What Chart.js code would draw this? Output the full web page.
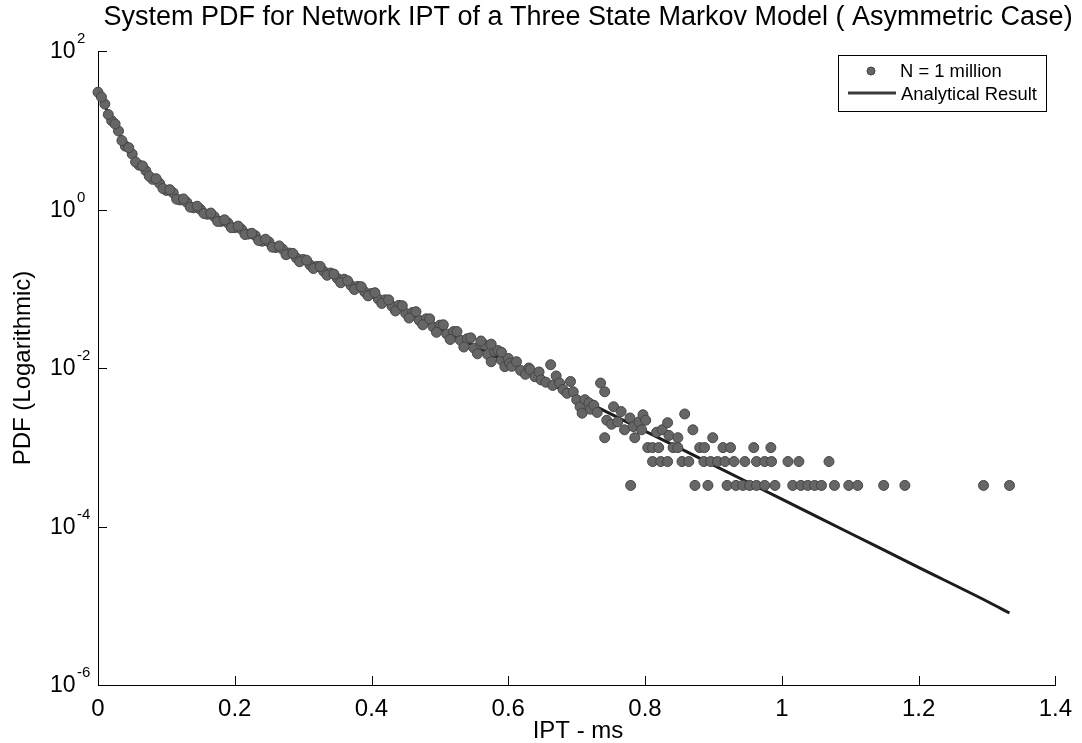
<!DOCTYPE html>
<html>
<head>
<meta charset="utf-8">
<script src="https://cdn.jsdelivr.net/npm/chart.js@4.4.1/dist/chart.umd.min.js"></script>
<style>
  html, body { margin: 0; padding: 0; background: #fff; }
  #wrap { width: 1082px; height: 743px; }
</style>
</head>
<body>
<div id="wrap"><canvas id="pdfChart" width="1082" height="743"></canvas></div>
<script>
// ============================================================
// DATA
// ============================================================

// Analytical result (solid line)
const fitX = [0, 0.01, 0.02, 0.03, 0.04, 0.05, 0.06, 0.07, 0.08, 0.09, 0.10, 0.12, 0.15, 0.175,
  0.20, 0.25, 0.30, 0.35, 0.40, 0.45, 0.50, 0.55, 0.60, 0.70, 0.80, 0.90, 1.00, 1.10, 1.20, 1.30, 1.333];
const fitY = [31.6, 20.4, 13.5, 9.33, 6.61, 4.90, 3.80, 3.02, 2.51, 2.09, 1.78, 1.35, 0.977, 0.759,
  0.603, 0.372, 0.226, 0.138, 0.0841, 0.0513, 0.0313, 0.0191, 0.0116, 0.00432, 0.00160,
  5.96e-4, 2.21e-4, 8.22e-5, 3.05e-5, 1.14e-5, 8.1e-6];

// Simulated histogram, N = 1 million (dots) - dense band along the curve
const bandX = [0.00, 0.01, 0.02, 0.03, 0.04, 0.05, 0.06, 0.07, 0.08, 0.09,
  0.10, 0.11, 0.12, 0.13, 0.14, 0.15, 0.16, 0.17, 0.18, 0.19,
  0.20, 0.21, 0.22, 0.23, 0.24, 0.25, 0.26, 0.27, 0.28, 0.29,
  0.30, 0.31, 0.32, 0.33, 0.34, 0.35, 0.36, 0.37, 0.38, 0.39,
  0.40, 0.41, 0.42, 0.43, 0.44, 0.45, 0.46, 0.47, 0.48, 0.49,
  0.50, 0.51, 0.52, 0.53, 0.54, 0.55, 0.56, 0.57, 0.58, 0.59, 0.60];
const bandY = [30.2, 21.4, 13.2, 9.77, 6.31, 5.01, 3.63, 3.09, 2.40, 2.14,
  1.74, 1.62, 1.32, 1.23, 1.05, 1.00, 0.871, 0.813, 0.708, 0.676,
  0.589, 0.562, 0.490, 0.468, 0.398, 0.389, 0.331, 0.316, 0.282, 0.245,
  0.234, 0.200, 0.191, 0.166, 0.158, 0.135, 0.132, 0.110, 0.107, 0.0912,
  0.0871, 0.0741, 0.0724, 0.0603, 0.0617, 0.0490, 0.0501, 0.0398, 0.0417, 0.0331,
  0.0347, 0.0269, 0.0288, 0.0224, 0.0234, 0.0178, 0.0200, 0.0148, 0.0162, 0.0126, 0.0132];

// in-between bins of the same band
const band2X = [0.005, 0.015, 0.025, 0.035, 0.045, 0.055, 0.065, 0.075, 0.085, 0.095,
  0.105, 0.115, 0.125, 0.135, 0.145, 0.155, 0.165, 0.175, 0.185, 0.195,
  0.205, 0.215, 0.225, 0.235, 0.245, 0.255, 0.265, 0.275, 0.285, 0.295,
  0.305, 0.315, 0.325, 0.335, 0.345, 0.355, 0.365, 0.375, 0.385, 0.395,
  0.405, 0.415, 0.425, 0.435, 0.445, 0.455, 0.465, 0.475, 0.485, 0.495,
  0.505, 0.515, 0.525, 0.535, 0.545, 0.555, 0.565, 0.575, 0.585, 0.595];
const band2Y = [26.3, 15.8, 12.0, 7.41, 6.03, 3.98, 3.55, 2.63, 2.45, 1.84,
  1.78, 1.35, 1.36, 1.07, 1.10, 0.891, 0.902, 0.708, 0.741, 0.589,
  0.617, 0.484, 0.501, 0.407, 0.422, 0.335, 0.347, 0.269, 0.279, 0.219,
  0.229, 0.180, 0.191, 0.148, 0.153, 0.119, 0.126, 0.0977, 0.106, 0.0813,
  0.0891, 0.0653, 0.0724, 0.0525, 0.0610, 0.0427, 0.0513, 0.0351, 0.0417, 0.0282,
  0.0351, 0.0229, 0.0288, 0.0184, 0.0240, 0.0151, 0.0197, 0.0120, 0.0166, 0.0104];

// scattered tail where counts become small
const tailX = [0.56, 0.575, 0.59, 0.602, 0.605, 0.612, 0.618, 0.625, 0.63, 0.632, 0.639, 0.645,
  0.648, 0.655, 0.662, 0.665, 0.67, 0.675, 0.68, 0.686, 0.691, 0.695, 0.70, 0.705,
  0.708, 0.712, 0.718, 0.72, 0.725, 0.73, 0.735, 0.741, 0.744, 0.751, 0.754, 0.76,
  0.765, 0.770, 0.778, 0.783, 0.791, 0.795, 0.797, 0.801, 0.817, 0.825, 0.833, 0.835, 0.858, 0.870];
const tailY = [0.0219, 0.0200, 0.0158, 0.0115, 0.0105, 0.0120, 0.00933, 0.00832, 0.0100, 0.00955, 0.00776, 0.00891,
  0.00708, 0.00661, 0.0110, 0.00603, 0.00794, 0.00646, 0.00537, 0.00479, 0.00676, 0.00501, 0.00398, 0.00324,
  0.00269, 0.00398, 0.00363, 0.00302, 0.00339, 0.00275, 0.00646, 0.00501, 0.00219, 0.00195, 0.00324, 0.00209,
  0.00282, 0.00166, 0.00234, 0.00182, 0.00209, 0.00166, 0.00257, 0.00219, 0.00155, 0.00166, 0.00204, 0.00141, 0.00263, 0.00166];

// quantised rows: 1, 2, 3 and 4 counts per bin
const row1X = [0.779, 0.873, 0.892, 0.920, 0.933, 0.943, 0.953, 0.963, 0.975, 0.990, 1.016,
  1.028, 1.038, 1.048, 1.058, 1.077, 1.098, 1.111, 1.149, 1.180, 1.295, 1.333];
const row1Y = 3.3e-4;
const row2X = [0.811, 0.823, 0.833, 0.854, 0.864, 0.886, 0.896, 0.906, 0.917, 0.930, 0.946,
  0.963, 0.975, 0.985, 1.009, 1.025, 1.069];
const row2Y = 6.6e-4;
const row3X = [0.804, 0.811, 0.820, 0.841, 0.848, 0.880, 0.887, 0.914, 0.925, 0.959, 0.984];
const row3Y = 9.9e-4;
const row4X = [0.741, 0.785, 0.848, 0.899];
const row4Y = 1.32e-3;

const yTickPowers = [2, 0, -2, -4, -6];
const xTickLabels = ['0', '0.2', '0.4', '0.6', '0.8', '1', '1.2', '1.4'];

// ============================================================
// BUILD DATASETS
// ============================================================

const samplePoints = [];
bandX.forEach((x, i) => samplePoints.push({ x, y: bandY[i] }));
band2X.forEach((x, i) => samplePoints.push({ x, y: band2Y[i] }));
tailX.forEach((x, i) => samplePoints.push({ x, y: tailY[i] }));
row1X.forEach(x => samplePoints.push({ x, y: row1Y }));
row2X.forEach(x => samplePoints.push({ x, y: row2Y }));
row3X.forEach(x => samplePoints.push({ x, y: row3Y }));
row4X.forEach(x => samplePoints.push({ x, y: row4Y }));

const fitPoints = fitX.map((x, i) => ({ x, y: fitY[i] }));

const FONT = "'Liberation Sans', Arial, Helvetica, sans-serif";
const DOT_FILL = '#666666';
const DOT_EDGE = '#454545';
const LINE_COLOR = '#1c1c1c';

// ============================================================
// DECORATION PLUGIN — title, axis labels, log labels, inner ticks, legend
// ============================================================

const decorations = {
  id: 'decorations',
  afterDraw(chart) {
    const ctx = chart.ctx;
    const xs = chart.scales.x;
    const ys = chart.scales.y;
    const area = chart.chartArea;
    ctx.save();
    ctx.fillStyle = '#000';

    // Title
    ctx.font = `27px ${FONT}`;
    ctx.textAlign = 'center';
    ctx.textBaseline = 'alphabetic';
    ctx.fillText('System PDF for Network IPT of a Three State Markov Model ( Asymmetric Case)', 588, 25);

    // Axis titles
    ctx.font = `24px ${FONT}`;
    ctx.fillText('IPT - ms', 578, 738);
    ctx.save();
    ctx.translate(30, 368);
    ctx.rotate(-Math.PI / 2);
    ctx.fillText('PDF (Logarithmic)', 0, 0);
    ctx.restore();

    // Y tick labels 10^n
    yTickPowers.forEach(p => {
      const py = ys.getPixelForValue(Math.pow(10, p));
      ctx.font = `23px ${FONT}`;
      ctx.textAlign = 'left';
      ctx.textBaseline = 'middle';
      ctx.fillText('10', 50, py + 1);
      ctx.font = `15px ${FONT}`;
      ctx.fillText(String(p), 77, py - 12);
    });

    // Inner tick marks
    ctx.strokeStyle = '#000';
    ctx.lineWidth = 1;
    ctx.beginPath();
    yTickPowers.forEach(p => {
      const py = Math.round(ys.getPixelForValue(Math.pow(10, p))) + 0.5;
      ctx.moveTo(area.left, py);
      ctx.lineTo(area.left + 9, py);
    });
    xs.ticks.forEach(t => {
      const px = Math.round(xs.getPixelForValue(t.value)) + 0.5;
      ctx.moveTo(px, area.bottom);
      ctx.lineTo(px, area.bottom - 9);
    });
    ctx.stroke();

    // Legend
    const lx = 838, ly = 55, lw = 208, lh = 56;
    ctx.fillStyle = '#fff';
    ctx.fillRect(lx, ly, lw, lh);
    ctx.strokeStyle = '#000';
    ctx.strokeRect(lx + 0.5, ly + 0.5, lw, lh);
    ctx.beginPath();
    ctx.arc(871, 71, 4, 0, Math.PI * 2);
    ctx.fillStyle = DOT_FILL;
    ctx.fill();
    ctx.strokeStyle = DOT_EDGE;
    ctx.stroke();
    ctx.beginPath();
    ctx.moveTo(848, 93);
    ctx.lineTo(896, 93);
    ctx.strokeStyle = '#3a3a3a';
    ctx.lineWidth = 3;
    ctx.stroke();
    ctx.fillStyle = '#000';
    ctx.font = `18.4px ${FONT}`;
    ctx.textAlign = 'left';
    ctx.textBaseline = 'middle';
    ctx.fillText('N = 1 million', 900, 72);
    ctx.fillText('Analytical Result', 901, 95);

    ctx.restore();
  }
};

// ============================================================
// CHART
// ============================================================

new Chart(document.getElementById('pdfChart').getContext('2d'), {
  type: 'scatter',
  data: {
    datasets: [
      {
        label: 'N = 1 million',
        data: samplePoints,
        showLine: false,
        pointRadius: 5,
        pointBackgroundColor: DOT_FILL,
        pointBorderColor: DOT_EDGE,
        pointBorderWidth: 1,
        clip: 8
      },
      {
        label: 'Analytical Result',
        data: fitPoints,
        showLine: true,
        pointRadius: 0,
        borderColor: LINE_COLOR,
        borderWidth: 3,
        cubicInterpolationMode: 'monotone',
        fill: false
      }
    ]
  },
  options: {
    responsive: false,
    animation: false,
    events: [],
    layout: { padding: { left: 0, top: 51, right: 25, bottom: 0 } },
    plugins: {
      legend: { display: false },
      title: { display: false },
      tooltip: { enabled: false }
    },
    scales: {
      x: {
        type: 'linear',
        min: 0,
        max: 1.4,
        grid: { display: false, drawTicks: false },
        border: { display: true, color: '#000', width: 1 },
        ticks: {
          stepSize: 0.2,
          padding: 10,
          color: '#000',
          font: { family: FONT, size: 24 },
          maxRotation: 0,
          callback: (v, i) => xTickLabels[i]
        },
        afterFit(scale) { scale.height = 58; }
      },
      y: {
        type: 'logarithmic',
        min: 1e-6,
        max: 1e2,
        grid: { display: false, drawTicks: false },
        border: { display: true, color: '#000', width: 1 },
        ticks: { display: false },
        afterFit(scale) { scale.width = 98; }
      }
    }
  },
  plugins: [decorations]
});
</script>
</body>
</html>
